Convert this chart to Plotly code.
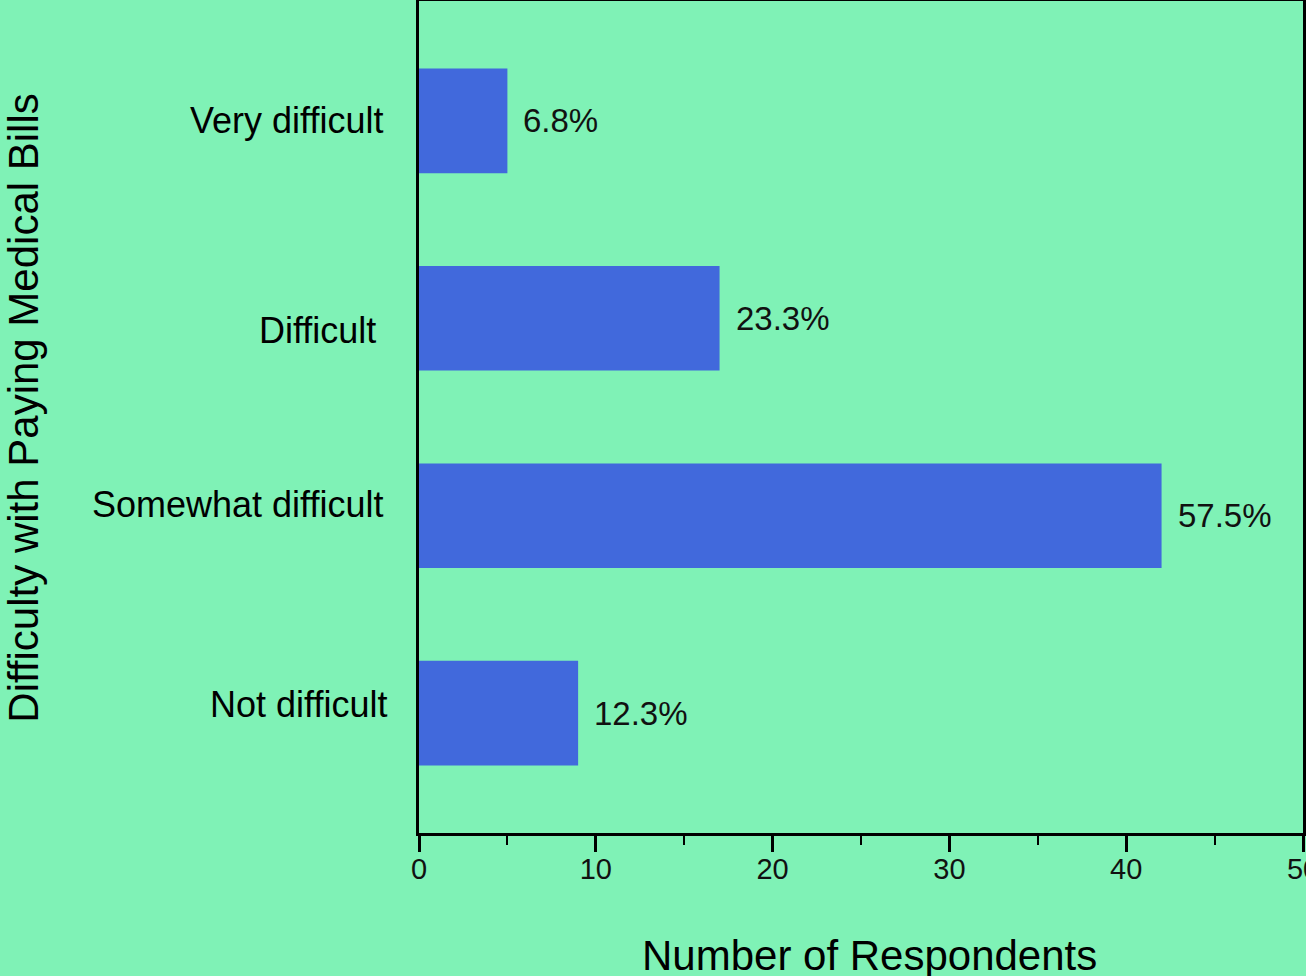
import plotly.graph_objects as go

categories = ["Very difficult", "Difficult", "Somewhat difficult", "Not difficult"]
counts = [5, 17, 42, 9]
pct_labels = ["6.8%", "23.3%", "57.5%", "12.3%"]
x_ticks = [0, 10, 20, 30, 40, 50]

BG = "#7FF2B6"
BAR = "#4169DC"
FONT = "Arial, Liberation Sans, Helvetica, sans-serif"

fig = go.Figure()
fig.add_trace(go.Bar(
    x=counts, y=categories, orientation="h",
    width=0.53, marker=dict(color=BAR, line=dict(width=0)),
    hoverinfo="skip",
))

# category label offsets (styling, pixels): (xshift, yshift)
cat_offsets = [(-34, 0), (-41, -12), (-34, 11), (-30, 9)]
annotations = []
for cat, (dx, dy) in zip(categories, cat_offsets):
    annotations.append(dict(
        x=0, xref="paper", y=cat, yref="y", text=cat, showarrow=False,
        xanchor="right", yanchor="middle", xshift=dx, yshift=dy,
        font=dict(family=FONT, size=36, color="black"),
    ))
for cat, v, lab in zip(categories, counts, pct_labels):
    annotations.append(dict(
        x=v, xref="x", y=cat, yref="y", text=lab, showarrow=False,
        xanchor="left", yanchor="middle", xshift=14,
        font=dict(family=FONT, size=33, color="#111111"),
    ))
annotations.append(dict(
    x=-0.447, xref="paper", y=0.511, yref="paper",
    text="Difficulty with Paying Medical Bills", textangle=-90,
    showarrow=False, xanchor="center", yanchor="middle",
    font=dict(family=FONT, size=42, color="black"),
))
annotations.append(dict(
    x=0.51, xref="paper", y=-0.147, yref="paper",
    text="Number of Respondents", showarrow=False,
    xanchor="center", yanchor="middle",
    font=dict(family=FONT, size=42, color="black"),
))

fig.update_layout(
    width=1306, height=976,
    paper_bgcolor=BG, plot_bgcolor=BG,
    margin=dict(l=419, r=3, t=1, b=143, autoexpand=False),
    showlegend=False,
    annotations=annotations,
    xaxis=dict(
        range=[0, 50], tickvals=x_ticks, ticktext=[str(t) for t in x_ticks],
        showgrid=False, zeroline=False, automargin=False,
        showline=True, linecolor="black", linewidth=2.5, mirror=True,
        ticks="outside", ticklen=16, tickwidth=2.5, tickcolor="black",
        ticklabeloverflow="allow", ticklabelstandoff=-8,
        tickfont=dict(family=FONT, size=29, color="#111111"),
        minor=dict(dtick=5, tick0=0, ticks="outside", ticklen=9, tickwidth=2, tickcolor="black", showgrid=False),
    ),
    yaxis=dict(
        categoryorder="array", categoryarray=categories,
        range=[3.607, -0.607], automargin=False,
        showticklabels=False, showgrid=False, zeroline=False,
        showline=True, linecolor="black", linewidth=2.5, mirror=True,
        ticks="",
    ),
)

fig.write_html(
    "out.html",
    config={"displayModeBar": False, "responsive": False},
    post_script="document.body.style.margin='0';document.body.style.overflow='hidden';document.body.style.background='" + BG + "';",
)
